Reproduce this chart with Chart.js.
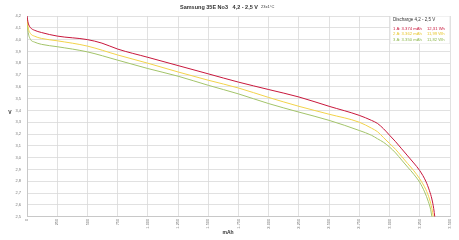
<!DOCTYPE html>
<html>
<head>
<meta charset="utf-8">
<script src="https://cdn.jsdelivr.net/npm/chart.js@4.4.1/dist/chart.umd.min.js"></script>
<style>
html,body{margin:0;padding:0;background:#fff;}
#wrap{width:459px;height:240px;position:relative;}
</style>
</head>
<body>
<div id="wrap"><canvas id="c" width="459" height="240"></canvas></div>
<script>
// ---- data ----
const chartTitle = "Samsung 35E No3   4,2 - 2,5 V";
const chartSubTitle = "23±1°C";
const legendTitle = "Discharge 4,2 - 2,5 V";
const seriesNames = ["1 A: 3.374 mAh", "2 A: 3.362 mAh", "3 A: 3.350 mAh"];
const seriesEnergy = ["12,31 Wh", "11,99 Wh", "11,82 Wh"];
const xTitle = "mAh";
const yTitle = "V";

const redX = [0, 10, 30, 60, 120, 250, 500, 620, 750, 1000, 1250, 1500, 1750, 2000, 2250, 2500, 2750, 2850, 2900, 2950, 3000, 3050, 3100, 3150, 3200, 3250, 3300, 3330, 3350, 3365, 3374];
const redY = [4.20, 4.14, 4.10, 4.08, 4.06, 4.03, 4.00, 3.97, 3.92, 3.85, 3.78, 3.71, 3.64, 3.577, 3.514, 3.435, 3.358, 3.316, 3.29, 3.245, 3.19, 3.135, 3.075, 3.015, 2.955, 2.89, 2.80, 2.72, 2.65, 2.57, 2.50];

const yellowX = [0, 10, 30, 60, 120, 250, 500, 750, 1000, 1250, 1500, 1750, 2000, 2250, 2500, 2750, 2850, 2900, 2950, 3000, 3050, 3100, 3150, 3200, 3250, 3300, 3330, 3350, 3362];
const yellowY = [4.18, 4.10, 4.05, 4.03, 4.01, 3.99, 3.945, 3.87, 3.80, 3.726, 3.656, 3.59, 3.51, 3.435, 3.368, 3.30, 3.25, 3.22, 3.17, 3.12, 3.07, 3.01, 2.95, 2.89, 2.82, 2.73, 2.65, 2.57, 2.50];

const greenX = [0, 10, 30, 60, 120, 250, 500, 750, 1000, 1250, 1500, 1750, 2000, 2250, 2500, 2750, 2850, 2900, 2950, 3000, 3050, 3100, 3150, 3200, 3250, 3290, 3320, 3340, 3350];
const greenY = [4.15, 4.06, 4.00, 3.98, 3.96, 3.94, 3.896, 3.826, 3.755, 3.69, 3.613, 3.54, 3.458, 3.386, 3.316, 3.23, 3.19, 3.16, 3.13, 3.09, 3.04, 2.98, 2.92, 2.86, 2.79, 2.71, 2.63, 2.56, 2.50];

const xMin = 0, xMax = 3500, xStep = 250;
const yMin = 2.5, yMax = 4.2, yStep = 0.1;

const colors = ["#c8173c", "#f2d34a", "#a3c46a"];
const legendTextColors = ["#c8173c", "#e8c830", "#8fb850"];

function pts(xs, ys){ return xs.map((x,i)=>({x:x, y:ys[i]})); }

const FONT = "'Liberation Sans', Arial, sans-serif";

const overlay = {
  id: 'overlay',
  afterDraw(chart){
    const ctx = chart.ctx;
    const a = chart.chartArea;
    ctx.save();
    // title
    ctx.fillStyle = '#333';
    ctx.textBaseline = 'middle';
    ctx.textAlign = 'left';
    ctx.font = "bold 5.5px " + FONT;
    ctx.fillText(chartTitle, 180, 7);
    const w = ctx.measureText(chartTitle).width;
    ctx.font = "4px " + FONT;
    ctx.fillText(chartSubTitle, 180 + w + 3, 7);
    // axis titles
    ctx.font = "bold 5px " + FONT;
    ctx.textAlign = 'center';
    ctx.fillText(yTitle, 10, 113);
    ctx.fillText(xTitle, 228, 233);
    // legend box
    const lx = 390, ly = a.top, lw = a.right - 390, lh = 28;
    ctx.fillStyle = '#fff';
    ctx.fillRect(lx, ly, lw, lh);
    ctx.strokeStyle = '#e4e4e4';
    ctx.lineWidth = 0.5;
    ctx.strokeRect(lx + 0.25, ly + 0.25, lw - 0.5, lh - 0.5);
    ctx.textAlign = 'left';
    ctx.fillStyle = '#333';
    ctx.font = "4.5px " + FONT;
    ctx.fillText(legendTitle, 393, 20);
    ctx.font = "4.2px " + FONT;
    for (let i = 0; i < seriesNames.length; i++){
      const y = 28.5 + i * 5.6;
      ctx.fillStyle = legendTextColors[i];
      ctx.fillText(seriesNames[i], 393, y);
      ctx.fillText(seriesEnergy[i], 427, y);
    }
    ctx.restore();
  }
};

new Chart(document.getElementById('c'), {
  type: 'line',
  data: {
    datasets: [
      {data: pts(redX, redY), borderColor: colors[0]},
      {data: pts(yellowX, yellowY), borderColor: colors[1]},
      {data: pts(greenX, greenY), borderColor: colors[2]}
    ].map(d => Object.assign(d, {borderWidth: 1, pointRadius: 0, fill: false, cubicInterpolationMode: 'monotone'}))
  },
  options: {
    responsive: false,
    devicePixelRatio: 1,
    animation: false,
    layout: {padding: {top: 16, right: 9, left: 0, bottom: 0}},
    plugins: {legend: {display: false}, tooltip: {enabled: false}, title: {display: false}},
    scales: {
      x: {
        type: 'linear', min: xMin, max: xMax,
        afterFit(s){ s.height = 23.3; },
        grid: {color: '#d9d9d9', lineWidth: 0.8, drawTicks: false},
        border: {color: '#c8c8c8'},
        ticks: {
          stepSize: xStep, minRotation: 90, maxRotation: 90, padding: 2,
          autoSkip: false,
          color: '#777', font: {size: 4, family: FONT},
          callback: v => v.toLocaleString('de-DE')
        }
      },
      y: {
        type: 'linear', min: yMin, max: yMax,
        afterFit(s){ s.width = 27; },
        grid: {color: '#d9d9d9', lineWidth: 0.8, drawTicks: false},
        border: {color: '#c8c8c8'},
        ticks: {
          stepSize: yStep, padding: 6, autoSkip: false,
          color: '#777', font: {size: 4, family: FONT},
          callback: v => (Math.round(v * 10) / 10).toFixed(1).replace('.', ',')
        }
      }
    }
  },
  plugins: [overlay]
});
</script>
</body>
</html>
